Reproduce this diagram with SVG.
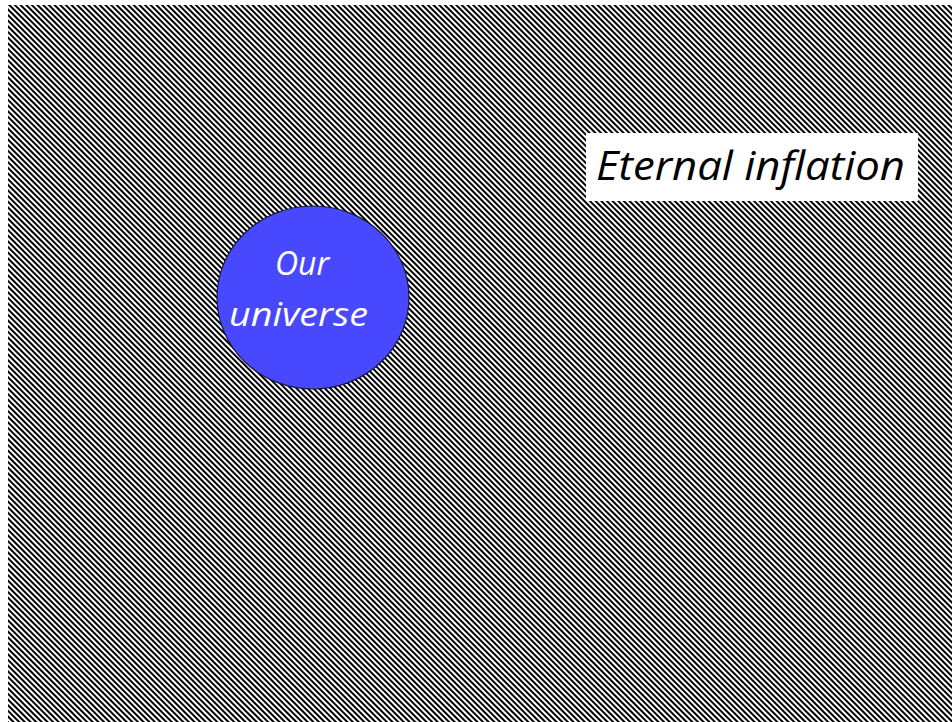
<svg xmlns="http://www.w3.org/2000/svg" width="952" height="722" viewBox="0 0 952 722">
  <style>
    .lbl { font-family: "Open Sans", "Noto Sans", sans-serif; font-style: italic; }
  </style>
  <defs>
    <pattern id="hatch" patternUnits="userSpaceOnUse" width="4" height="4" patternTransform="rotate(45)">
      <rect x="0" y="0" width="4" height="4" fill="#ffffff"/>
      <rect x="0" y="0" width="4" height="2" fill="#000000"/>
    </pattern>
  </defs>
  <rect x="0" y="0" width="952" height="722" fill="#ffffff"/>
  <rect id="background" x="8" y="5" width="944" height="717" fill="url(#hatch)"/>
  <g id="our-universe">
    <ellipse cx="313" cy="297.5" rx="96" ry="91.5" fill="#4848ff" stroke="#1a1a40" stroke-width="1.2"/>
    <text class="lbl" x="302" y="275" font-size="32" fill="#ffffff" text-anchor="middle">Our</text>
    <text class="lbl" x="298.5" y="326" font-size="32" fill="#ffffff" text-anchor="middle" textLength="139" lengthAdjust="spacingAndGlyphs">universe</text>
  </g>
  <g id="eternal-inflation">
    <rect x="586" y="133" width="332" height="68" fill="#ffffff"/>
    <text class="lbl" x="596" y="180" font-size="40" fill="#000000" textLength="309" lengthAdjust="spacingAndGlyphs">Eternal inflation</text>
  </g>
  <g id="connectors"></g>
</svg>
